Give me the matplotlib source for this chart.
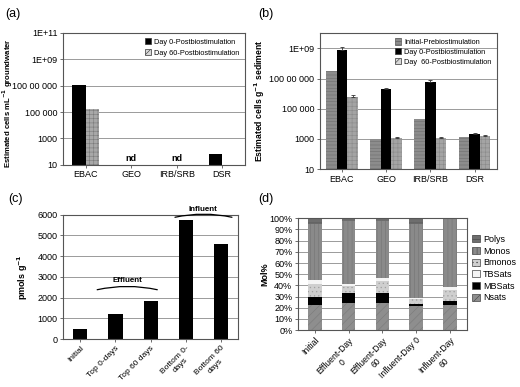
import numpy as np
import matplotlib.pyplot as plt
from matplotlib.patches import Patch

plt.rcParams['font.family'] = ['Liberation Sans', 'DejaVu Sans']
plt.rcParams['hatch.linewidth'] = 0.4

# (a) cells per mL groundwater
cats_a = ['EBAC', 'GEO', 'IRB/SRB', 'DSR']
a_day0 = [1.2e7, np.nan, np.nan, 60]
a_day60 = [1.7e5, np.nan, np.nan, np.nan]
a_nd = ['', 'nd', 'nd', '']

# (b) cells per g sediment
cats_b = ['EBAC', 'GEO', 'IRB/SRB', 'DSR']
b_initial = [3.2e7, 1000, 2.2e4, 1300]
b_day0 = [7.4e8, 1.9e6, 6.3e6, 2240]
b_day60 = [6.2e5, 1230, 1200, 1660]
b_err_day0 = [5e8, 6.5e5, 1.4e6, 250]
b_err_day60 = [2.5e5, 150, 150, 120]

log_ticks = [10, 1e3, 1e5, 1e7, 1e9, 1e11]
log_labels = ['10', '1000', '100 000', '100 00 000', '1E+09', '1E+11']

# (c) pmols per g
cats_c = ['Initial', 'Top 0-days', 'Top 60 days', 'Bottom 0-\ndays', 'Bottom 60\ndays']
c_vals = [480, 1200, 1850, 5750, 4580]

# (d) Mol% composition
cats_d = ['Initial', 'Effluent-Day\n0', 'Effluent-Day\n60', 'Influent-Day 0', 'Influent-Day\n60']
nsats = [22.8, 24.6, 24.6, 21.4, 22.3]
mbsats = [6.9, 8.9, 8.9, 1.7, 3.8]
bmonos = [11.8, 6.0, 10.4, 4.5, 9.5]
tbsats = [3.5, 2.0, 2.7, 1.2, 3.0]
monos = [50.0, 56.5, 51.4, 66.2, 60.4]
polys = [5.0, 2.0, 2.0, 5.0, 1.0]

fig = plt.figure(figsize=(5.2, 3.87), dpi=100)
grid_c = '#9a9a9a'
spine_c = '#555555'


def style_ax(ax, fs=6.5):
    for s in ax.spines.values():
        s.set_color(spine_c)
        s.set_linewidth(0.8)
    ax.tick_params(labelsize=fs, length=2, width=0.6, color=spine_c, pad=2)
    ax.yaxis.grid(True, color=grid_c, lw=0.7)
    ax.set_axisbelow(True)


# ---- (a)
ax = fig.add_axes([0.121, 0.574, 0.350, 0.341])
x = np.arange(len(cats_a))
w = 0.3
ax.bar(x - w / 2, a_day0, w, bottom=1, color='black')
ax.bar(x + w / 2, a_day60, w, bottom=1, color='#a8a8a8', hatch='++++', edgecolor='#7a7a7a', lw=0)
ax.set_yscale('log')
ax.set_ylim(10, 1e11)
ax.set_xlim(-0.5, len(cats_a) - 0.5)
ax.set_yticks(log_ticks, log_labels)
ax.yaxis.set_minor_locator(plt.NullLocator())
ax.set_xticks(x, cats_a)
for i, t in enumerate(a_nd):
    if t:
        ax.text(x[i], 14, t, ha='center', va='bottom', fontsize=6.5, fontweight='bold')
style_ax(ax)
ax.set_ylabel('Estimated cells mL$^{\\mathbf{-1}}$ groundwater', fontsize=5.6, fontweight='bold')
ax.yaxis.set_label_coords(-0.265, 0.47)
ha = [Patch(facecolor='black', edgecolor='#333333', lw=0.5),
      Patch(facecolor='#d8d8d8', hatch='////', edgecolor='#333333', lw=0.5)]
ax.legend(ha, ['Day 0-Postbiostimulation', 'Day 60-Postbiostimulation'], loc='upper right',
          fontsize=5.3, frameon=False, handlelength=0.9, handleheight=0.9,
          handletextpad=0.4, borderaxespad=0.3)
fig.text(0.01, 0.965, '(a)', fontsize=9, va='center')

# ---- (b)
ax = fig.add_axes([0.615, 0.563, 0.340, 0.351])
x = np.arange(len(cats_b))
w = 0.24
ek = dict(elinewidth=0.6, capsize=1.5, ecolor='#333333', capthick=0.6)
ax.bar(x - w, b_initial, w, bottom=1, color='#8c8c8c', hatch='-----', edgecolor='#6f6f6f', lw=0)
ax.bar(x, b_day0, w, bottom=1, color='black', yerr=[[0] * 4, b_err_day0], error_kw=ek)
ax.bar(x + w, b_day60, w, bottom=1, color='#a4a4a4', hatch='++++', edgecolor='#8a8a8a', lw=0,
       yerr=[[0] * 4, b_err_day60], error_kw=ek)
ax.set_yscale('log')
ax.set_ylim(10, 1e10)
ax.set_xlim(-0.5, len(cats_b) - 0.5)
ax.set_yticks(log_ticks[:5], log_labels[:5])
ax.yaxis.set_minor_locator(plt.NullLocator())
ax.set_xticks(x, cats_b)
style_ax(ax)
ax.set_ylabel('Estimated cells g$^{\\mathbf{-1}}$ sediment', fontsize=6.2, fontweight='bold')
ax.yaxis.set_label_coords(-0.3, 0.5)
hb = [Patch(facecolor='#8c8c8c', hatch='-----', edgecolor='#555555', lw=0.5),
      Patch(facecolor='black', edgecolor='#333333', lw=0.5),
      Patch(facecolor='#d8d8d8', hatch='////', edgecolor='#333333', lw=0.5)]
ax.legend(hb, ['Initial-Prebiostimulation', 'Day 0-Postbiostimulation', 'Day  60-Postbiostimulation'],
          loc='upper right', fontsize=5.3, frameon=False, handlelength=0.9, handleheight=0.9,
          handletextpad=0.4, borderaxespad=0.3, labelspacing=0.3)
fig.text(0.496, 0.965, '(b)', fontsize=9, va='center')

# ---- (c)
ax = fig.add_axes([0.121, 0.124, 0.337, 0.321])
x = np.arange(len(cats_c))
ax.bar(x, c_vals, 0.4, color='black')
ax.set_ylim(0, 6000)
ax.set_xlim(-0.5, len(cats_c) - 0.5)
ax.set_yticks(range(0, 6001, 1000))
ax.set_xticks(x, cats_c, rotation=45, ha='right', rotation_mode='anchor', multialignment='center')
style_ax(ax)
ax.tick_params(axis='x', labelsize=6.0)
ax.set_ylabel('pmols g$^{\\mathbf{-1}}$', fontsize=6.5, fontweight='bold')
ax.yaxis.set_label_coords(-0.19, 0.5)
# brackets over bar groups
ax.annotate('', xy=(x[1] - 0.6, c_vals[2] + 500), xytext=(x[2] + 0.27, c_vals[2] + 500),
            arrowprops=dict(arrowstyle='-', lw=0.9, connectionstyle='arc3,rad=0.12'),
            annotation_clip=False)
ax.text((x[1] + x[2]) / 2 - 0.15, c_vals[2] + 900, 'Effluent', ha='center', fontsize=5.8,
        fontweight='bold')
ax.annotate('', xy=(x[3] - 0.38, c_vals[3] + 100), xytext=(x[4] + 0.4, c_vals[3] + 100),
            arrowprops=dict(arrowstyle='-', lw=0.9, connectionstyle='arc3,rad=0.12'),
            annotation_clip=False)
ax.text((x[3] + x[4]) / 2, c_vals[3] + 430, 'Influent', ha='center', fontsize=5.8,
        fontweight='bold', clip_on=False)
fig.text(0.015, 0.485, '(c)', fontsize=9, va='center')

# ---- (d)
ax = fig.add_axes([0.573, 0.147, 0.325, 0.289])
x = np.arange(len(cats_d))
w = 0.4
series = [
    ('Nsats', nsats, dict(color='#8e8e8e', hatch='////', edgecolor='#7a7a7a')),
    ('MBSats', mbsats, dict(color='black', edgecolor='black')),
    ('Bmonos', bmonos, dict(color='#cfcfcf', hatch='....', edgecolor='#a0a0a0')),
    ('TBSats', tbsats, dict(color='#f4f4f4', edgecolor='#bbbbbb')),
    ('Monos', monos, dict(color='#8a8a8a', hatch='||||', edgecolor='#747474')),
    ('Polys', polys, dict(color='#6e6e6e', hatch='----', edgecolor='#555555')),
]
bottom = np.zeros(len(cats_d))
handles = {}
for name, vals, st in series:
    ax.bar(x, vals, w, bottom=bottom, lw=0, **st)
    handles[name] = Patch(facecolor=st['color'], hatch=st.get('hatch'), edgecolor='#444444', lw=0.5)
    bottom += np.array(vals)
ax.set_ylim(0, 100)
ax.set_xlim(-0.5, len(cats_d) - 0.5)
ax.set_yticks(range(0, 101, 10), [f'{v}%' for v in range(0, 101, 10)])
ax.set_xticks(x, cats_d, rotation=45, ha='right', rotation_mode='anchor', multialignment='center')
style_ax(ax)
ax.tick_params(axis='x', labelsize=6.2)
ax.set_ylabel('Mol%', fontsize=6.5, fontweight='bold')
ax.yaxis.set_label_coords(-0.17, 0.5)
order = ['Polys', 'Monos', 'Bmonos', 'TBSats', 'MBSats', 'Nsats']
ax.legend([handles[n] for n in order], order, loc='center left', bbox_to_anchor=(1.0, 0.55),
          fontsize=6.5, frameon=False, handlelength=0.8, handleheight=0.8, handletextpad=0.4,
          labelspacing=0.3, borderaxespad=0.2)
fig.text(0.496, 0.485, '(d)', fontsize=9, va='center')

fig.savefig('out.png', dpi=100)
